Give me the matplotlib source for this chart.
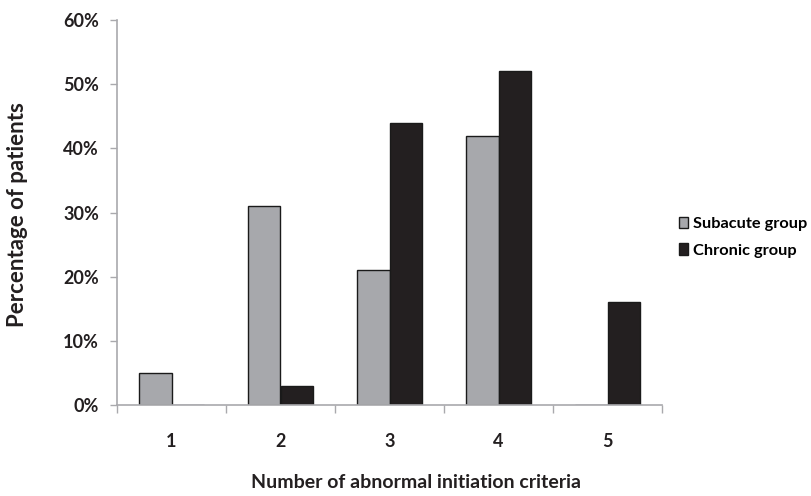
import matplotlib
matplotlib.use("Agg")
import matplotlib.pyplot as plt
import numpy as np

# Data
categories = ["1", "2", "3", "4", "5"]
subacute = [5, 31, 21, 42, 0]
chronic = [0, 3, 44, 52, 16]
y_ticks = [0, 10, 20, 30, 40, 50, 60]

plt.rcParams['font.family'] = ['Lato', 'DejaVu Sans']
plt.rcParams['font.weight'] = 'bold'

fig = plt.figure(figsize=(8.11, 4.96), dpi=100)
ax = fig.add_axes([117 / 811, 1 - 405 / 496, (662 - 117) / 811, (405 - 20) / 496])

x = np.arange(1, len(categories) + 1)
w = 0.295
axis_col = "#a9a9ad"
text_col = "#231f20"

ax.bar(x - w / 2, subacute, width=w, color="#a7a8ac", edgecolor="#1a1a1a", linewidth=1.0,
       label="Subacute group")
ax.bar(x + w / 2, chronic, width=w, color="#231f20", edgecolor="#1a1a1a", linewidth=1.0,
       label="Chronic group")

ax.set_xlim(0.5, len(categories) + 0.5)
ax.set_ylim(0, 60)

# boundary ticks between categories, labels at centres
ax.set_xticks(np.arange(0.5, len(categories) + 1, 1))
ax.set_xticklabels([])
ax.set_xticks(x, minor=True)
ax.set_xticklabels(categories, minor=True, fontsize=13, fontweight="bold", color=text_col)
ax.tick_params(axis="x", which="major", direction="out", length=6, color=axis_col, width=1)
ax.tick_params(axis="x", which="minor", length=0, pad=20)

ax.set_yticks(y_ticks)
ax.set_yticklabels([f"{v}%" for v in y_ticks], fontsize=13, fontweight="bold", color=text_col)
ax.tick_params(axis="y", direction="out", length=5, color=axis_col, width=1, pad=8)

for side in ["top", "right"]:
    ax.spines[side].set_visible(False)
for side in ["left", "bottom"]:
    ax.spines[side].set_color(axis_col)
    ax.spines[side].set_linewidth(1.2)

fig.text(18 / 811, 1 - 215 / 496, "Percentage of patients", rotation=90, ha="center", va="center",
         fontsize=16, fontweight="bold", color=text_col)
fig.text(416 / 811, 1 - 483 / 496, "Number of abnormal initiation criteria", ha="center", va="center",
         fontsize=14, fontweight="bold", color=text_col)

leg = fig.legend(loc="upper left", bbox_to_anchor=(672 / 811, 1 - 210 / 496), frameon=False,
                 handlelength=0.55, handleheight=0.7, handletextpad=0.35, borderaxespad=0,
                 labelspacing=0.75, prop={"weight": "bold", "size": 11.8})

fig.savefig("out.png", dpi=100, facecolor="white")
